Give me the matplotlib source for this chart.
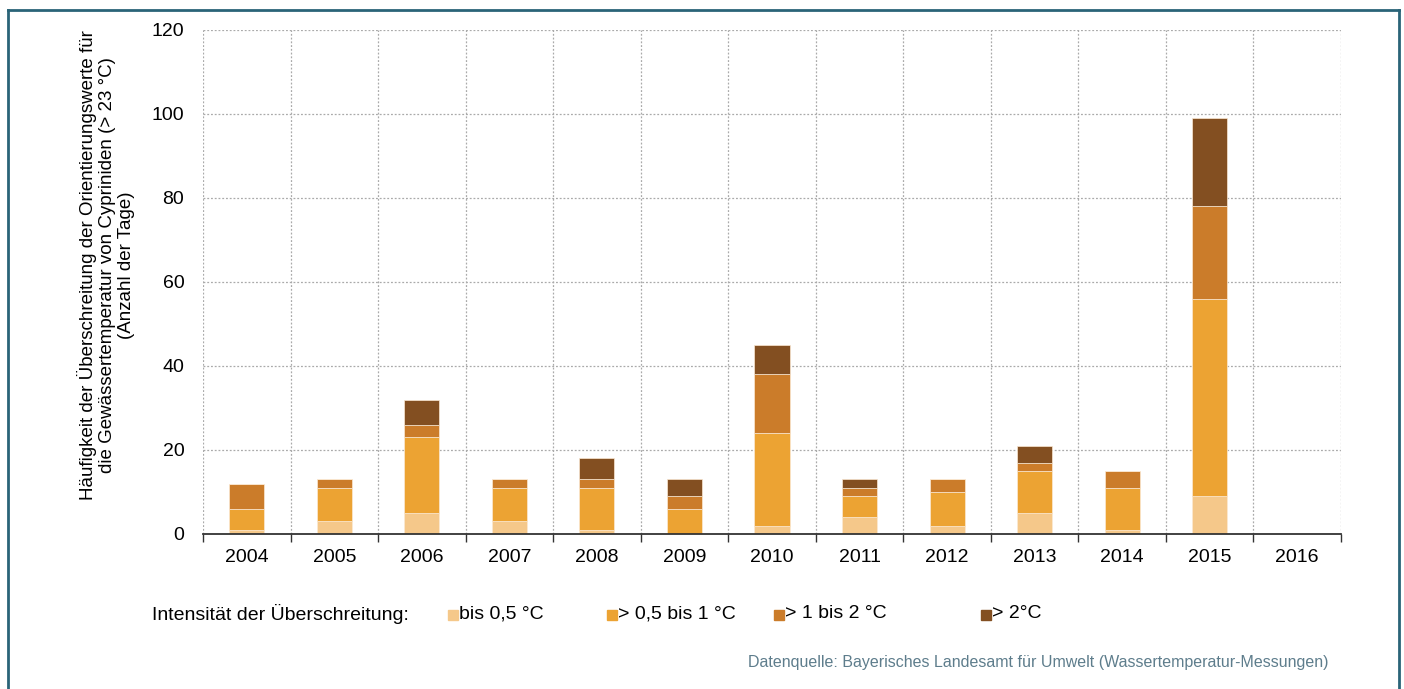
import matplotlib
matplotlib.use("Agg")
import matplotlib.pyplot as plt
from matplotlib.patches import Rectangle
import numpy as np

plt.rcParams['font.family'] = ['Liberation Sans', 'DejaVu Sans']

years = ["2004", "2005", "2006", "2007", "2008", "2009", "2010",
         "2011", "2012", "2013", "2014", "2015", "2016"]
bis_05 = [1, 3, 5, 3, 1, 0, 2, 4, 2, 5, 1, 9, 0]
von_05_bis_1 = [5, 8, 18, 8, 10, 6, 22, 5, 8, 10, 10, 47, 0]
von_1_bis_2 = [6, 2, 3, 2, 2, 3, 14, 2, 3, 2, 4, 22, 0]
ueber_2 = [0, 0, 6, 0, 5, 4, 7, 2, 0, 4, 0, 21, 0]

series_labels = ["bis 0,5 °C", "> 0,5 bis 1 °C", "> 1 bis 2 °C", "> 2°C"]
colors = ["#F5C88A", "#ECA333", "#CB7C2A", "#834F21"]
y_ticks = [0, 20, 40, 60, 80, 100, 120]

FS = 14
W, H = 1404, 689
fig = plt.figure(figsize=(W / 100, H / 100), dpi=100)
ax = fig.add_axes([203 / W, 1 - 534 / H, (1341 - 203) / W, (534 - 30) / H])

x = np.arange(len(years))
bottom = np.zeros(len(years))
for vals, col in zip([bis_05, von_05_bis_1, von_1_bis_2, ueber_2], colors):
    v = np.array(vals, dtype=float)
    ax.bar(x, v, width=0.4, bottom=bottom, color=col, edgecolor='#fbe9d3',
           linewidth=0.5, zorder=3)
    bottom += v

ax.set_xlim(-0.5, len(years) - 0.5)
ax.set_ylim(0, 120)
ax.set_yticks(y_ticks)
ax.set_yticklabels([str(t) for t in y_ticks], fontsize=FS)
ax.tick_params(axis='y', length=0, pad=13.5)

ax.set_xticks(x)
ax.set_xticklabels(years, fontsize=FS)
ax.tick_params(axis='x', which='major', length=0, pad=11)
ax.set_xticks(np.arange(-0.5, len(years)), minor=True)
ax.tick_params(axis='x', which='minor', length=6, width=1, color='#333333',
               direction='out')

ax.grid(False)
for t in y_ticks[1:]:
    ax.axhline(t, color='#aaaaaa', linestyle=(0, (1.5, 1.5)), linewidth=0.9, zorder=1)
for b in np.arange(-0.5, len(years) + 0.5):
    ax.axvline(b, color='#aaaaaa', linestyle=(0, (1.5, 1.5)), linewidth=0.9, zorder=1)

for s in ['top', 'right', 'left']:
    ax.spines[s].set_visible(False)
ax.spines['bottom'].set_color('#333333')
ax.spines['bottom'].set_linewidth(1.3)
ax.spines['bottom'].set_zorder(4)

fig.text(106 / W, 1 - 265 / H,
         "Häufigkeit der Überschreitung der Orientierungswerte für\n"
         "die Gewässertemperatur von Cypriniden (> 23 °C)\n"
         "(Anzahl der Tage)",
         rotation=90, ha='center', va='center', fontsize=13.5, linespacing=1.15)

# legend row
ly = 1 - 614 / H
fig.text(152 / W, ly, "Intensität der Überschreitung:", ha='left', va='center', fontsize=FS)
leg_x = [448, 607, 774, 981]
for lx, lab, col in zip(leg_x, series_labels, colors):
    fig.patches.append(Rectangle((lx / W, ly - 6 / H), 10 / W, 10 / H,
                                 transform=fig.transFigure, color=col))
    fig.text((lx + 11) / W, ly, lab, ha='left', va='center', fontsize=FS)

fig.text(1328 / W, 1 - 662 / H,
         "Datenquelle: Bayerisches Landesamt für Umwelt (Wassertemperatur-Messungen)",
         ha='right', va='center', fontsize=11.5, color='#5E7D8C')

# frame
frame_col = '#2A6478'
fig.add_artist(plt.Line2D([8 / W, 8 / W], [0, 1 - 10 / H], transform=fig.transFigure,
                          color=frame_col, linewidth=2))
fig.add_artist(plt.Line2D([1399 / W, 1399 / W], [0, 1 - 10 / H], transform=fig.transFigure,
                          color=frame_col, linewidth=2))
fig.add_artist(plt.Line2D([8 / W, 1399 / W], [1 - 10 / H, 1 - 10 / H], transform=fig.transFigure,
                          color=frame_col, linewidth=2))

fig.savefig("out.png", dpi=100)
